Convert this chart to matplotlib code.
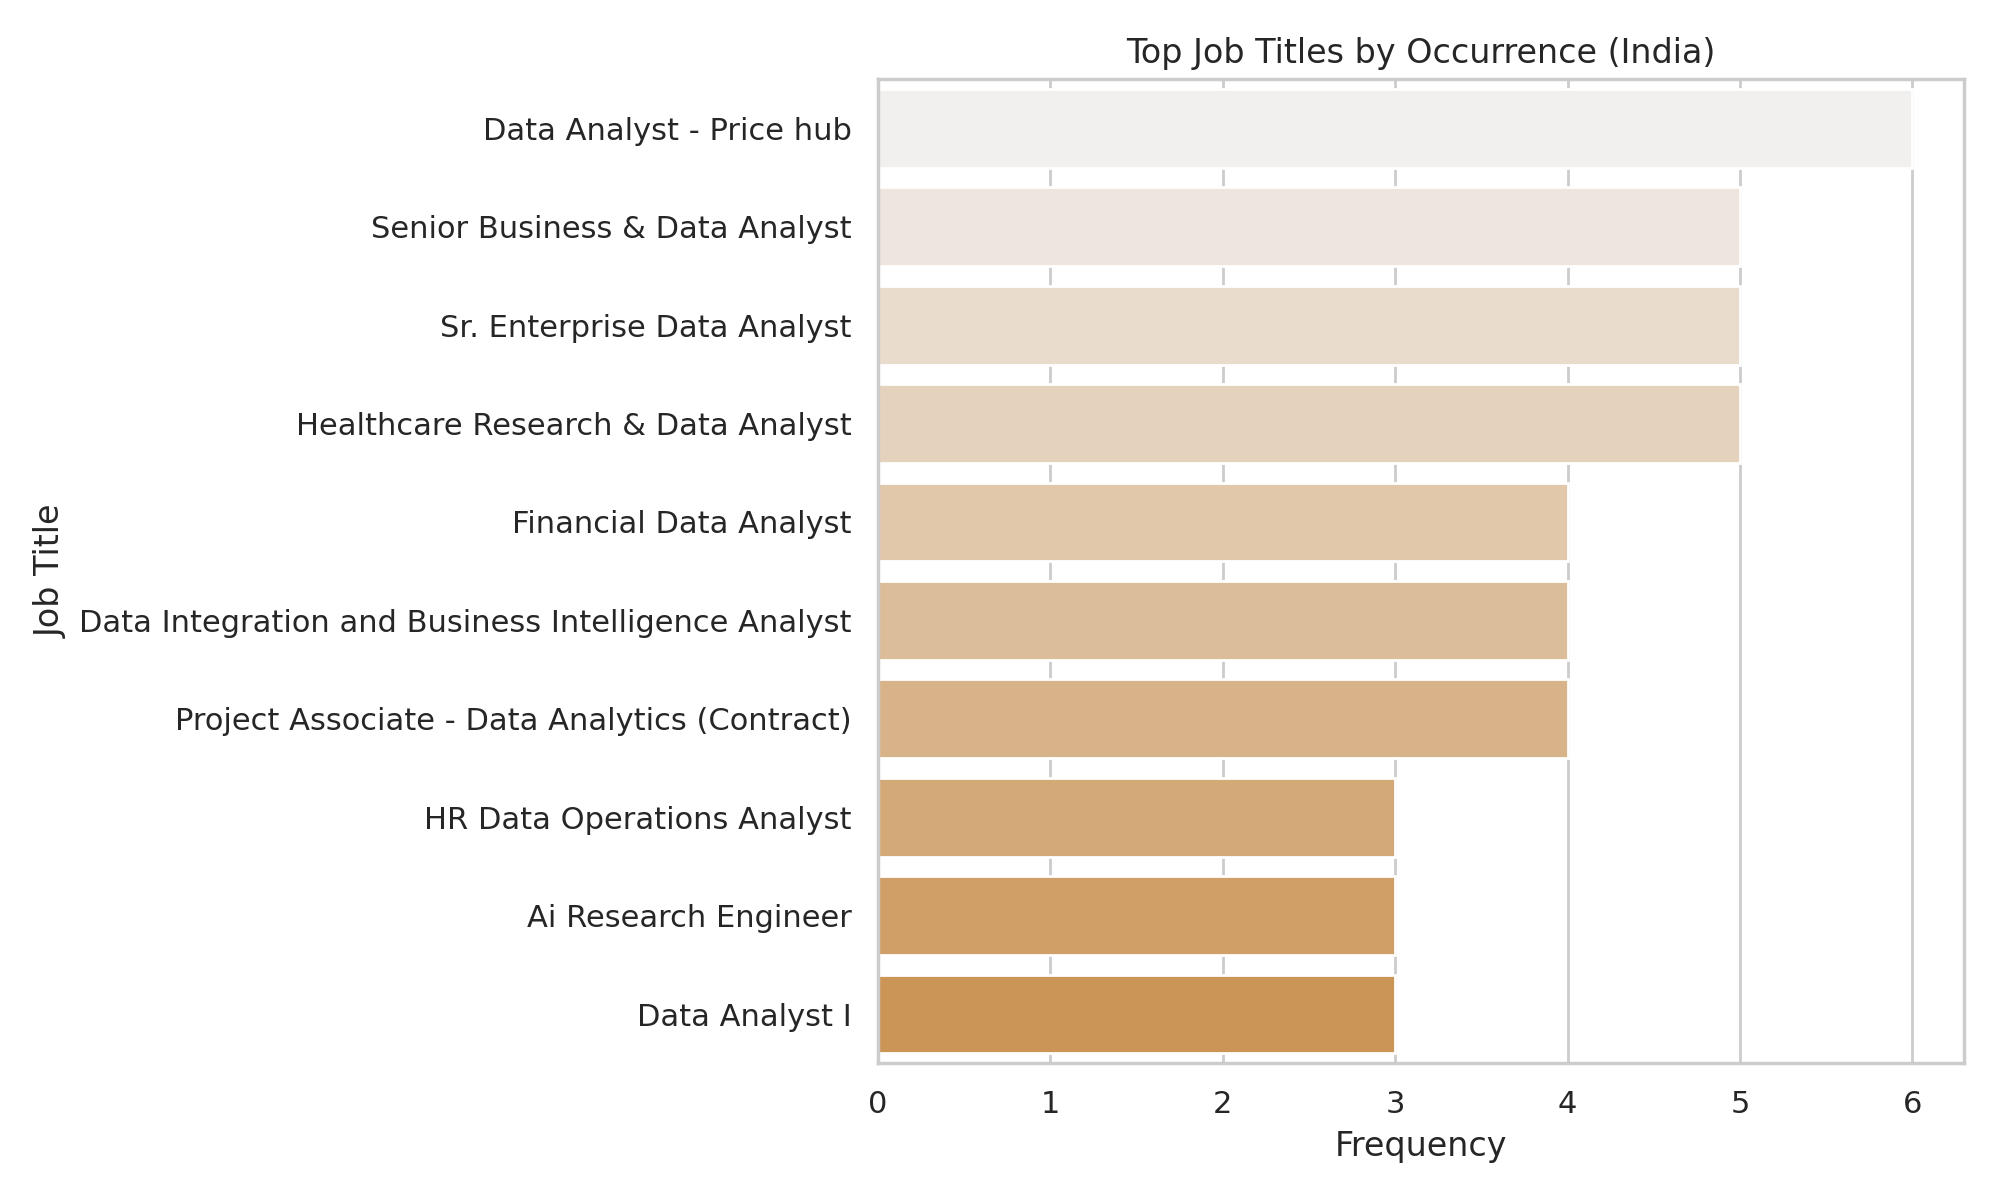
import pandas as pd
import numpy as np
import matplotlib
matplotlib.use("Agg")
import matplotlib.pyplot as plt
import seaborn as sns

titles = [
    "Data Analyst - Price hub",
    "Senior Business & Data Analyst",
    "Sr. Enterprise Data Analyst",
    "Healthcare Research & Data Analyst",
    "Financial Data Analyst",
    "Data Integration and Business Intelligence Analyst",
    "Project Associate - Data Analytics (Contract)",
    "HR Data Operations Analyst",
    "Ai Research Engineer",
    "Data Analyst I",
]
counts = [6, 5, 5, 5, 4, 4, 4, 3, 3, 3]

df = pd.DataFrame({"Job Title": titles, "Frequency": counts})

sns.set_theme(style="whitegrid")
plt.figure(figsize=(10, 6))
sns.barplot(data=df, x="Frequency", y="Job Title", hue="Job Title",
            palette=sns.light_palette("#cb9556", len(titles)), legend=False,
            saturation=1)
plt.title("Top Job Titles by Occurrence (India)")
plt.xlabel("Frequency")
plt.ylabel("Job Title")
plt.tight_layout()
plt.subplots_adjust(left=0.439, bottom=0.114, top=0.934)
plt.savefig("out.png", dpi=200)
